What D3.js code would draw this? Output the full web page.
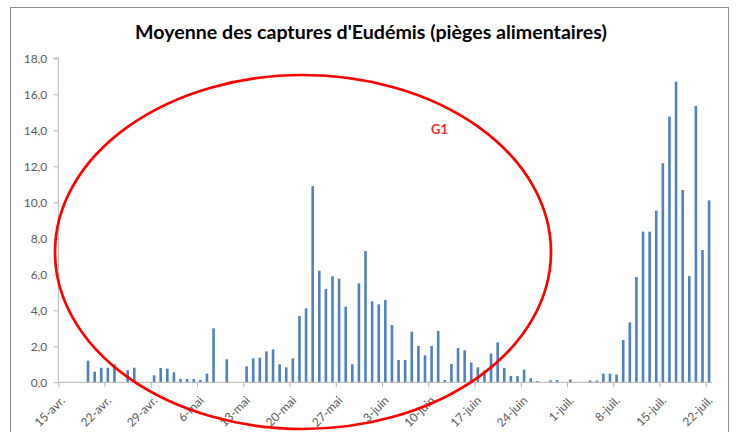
<!DOCTYPE html>
<html>
<head>
<meta charset="utf-8">
<script src="https://cdn.jsdelivr.net/npm/d3@7"></script>
<style>
  body { margin: 0; background: #fff; }
  svg { display: block; font-family: Lato, "Open Sans", sans-serif; }
  .axis path, .axis line { stroke: #b3b3b3; }
  .axis text { fill: #595959; font-size: 12px; font-family: Lato, sans-serif; }
</style>
</head>
<body>
<div id="chart"></div>
<script>
var svgWidth = 737;
var svgHeight = 432;

// first and last day of the series (15 avril -> 22 juillet)
var firstDay = new Date(2013, 3, 15);
var lastDay = new Date(2013, 6, 22);

// daily mean catches, one value per day starting at firstDay
var captures = [
  0, 0, 0, 0, 1.2, 0.59, 0.81, 0.81, 1.0, 0,
  0.67, 0.81, 0, 0, 0.39, 0.8, 0.76, 0.55, 0.18, 0.18,
  0.18, 0.13, 0.48, 3.0, 0, 1.28, 0, 0, 0.89, 1.33,
  1.37, 1.72, 1.83, 1.0, 0.83, 1.33, 3.68, 4.11, 10.9, 6.2,
  5.18, 5.89, 5.76, 4.2, 1.0, 5.5, 7.29, 4.5, 4.33, 4.57,
  3.18, 1.24, 1.24, 2.81, 2.02, 1.5, 2.02, 2.85, 0.13, 1.02,
  1.9, 1.78, 1.1, 0.83, 0.66, 1.59, 2.22, 0.79, 0.35, 0.35,
  0.7, 0.22, 0.06, 0, 0.11, 0.13, 0, 0.15, 0, 0,
  0.1, 0.1, 0.48, 0.48, 0.43, 2.35, 3.33, 5.85, 8.37, 8.37,
  9.54, 12.17, 14.76, 16.7, 10.68, 5.9, 15.35, 7.35, 10.11
];

var xTickLabels = ["15-avr.", "22-avr.", "29-avr.", "6-mai", "13-mai", "20-mai", "27-mai",
  "3-juin", "10-juin", "17-juin", "24-juin", "1-juil.", "8-juil.", "15-juil.", "22-juil."];

var yTicks = [0, 2, 4, 6, 8, 10, 12, 14, 16, 18];

var days = d3.timeDay.range(firstDay, d3.timeDay.offset(lastDay, 1));
var weeks = days.filter(function(d, i) { return i % 7 === 0; });

var plot = { left: 58.3, right: 712.4, top: 58.3, bottom: 382.3 };

var svg = d3.select("#chart").append("svg")
    .attr("width", svgWidth)
    .attr("height", svgHeight);

// chart frame
svg.append("rect")
    .attr("x", 10.5)
    .attr("y", 7.5)
    .attr("width", 718)
    .attr("height", 450)
    .attr("fill", "#fff")
    .attr("stroke", "#8c8c8c")
    .attr("stroke-width", 1);

svg.append("text")
    .attr("x", 371)
    .attr("y", 39)
    .attr("text-anchor", "middle")
    .style("font-family", "Lato, sans-serif")
    .style("font-weight", "bold")
    .style("font-size", "19.6px")
    .style("fill", "#000")
    .text("Moyenne des captures d'Eudémis (pièges alimentaires)");

var xScale = d3.scaleTime()
    .domain([firstDay, d3.timeDay.offset(lastDay, 1)])
    .range([plot.left, plot.right]);

var yScale = d3.scaleLinear()
    .domain([0, 18])
    .range([plot.bottom, plot.top]);

var dayWidth = (plot.right - plot.left) / days.length;
var barWidth = 2.6;

var yAxis = d3.axisLeft(yScale)
    .tickValues(yTicks)
    .tickSize(5)
    .tickPadding(6)
    .tickFormat(function(d) { return d.toFixed(1).replace(".", ","); });

svg.append("g")
    .attr("class", "axis")
    .attr("transform", `translate(${plot.left}, 0)`)
    .call(yAxis)
    .call(function(g) { g.select(".domain").attr("d", `M-5,${plot.top}H0V${plot.bottom}`); });

svg.selectAll(".bar")
    .data(captures)
    .enter()
    .append("rect")
        .attr("class", "bar")
        .attr("x", function(d, i) { return xScale(days[i]) + dayWidth / 2 - barWidth / 2; })
        .attr("y", function(d) { return yScale(d); })
        .attr("width", barWidth)
        .attr("height", function(d) { return plot.bottom - yScale(d); })
        .style("fill", "#4f81bd");

var xAxis = d3.axisBottom(xScale)
    .tickValues(weeks)
    .tickSize(5)
    .tickFormat(function(d, i) { return xTickLabels[i]; });

var gx = svg.append("g")
    .attr("class", "axis")
    .attr("transform", `translate(0, ${plot.bottom})`)
    .call(xAxis);

gx.select(".domain").attr("d", `M${plot.left},0H${plot.right}`);

gx.selectAll(".tick text")
    .attr("text-anchor", "end")
    .attr("dy", null)
    .attr("y", 0)
    .attr("transform", "translate(7, 19) rotate(-45)");

// red circle drawn over the first flight
svg.append("ellipse")
    .attr("cx", 303)
    .attr("cy", 252)
    .attr("rx", 248)
    .attr("ry", 177)
    .attr("fill", "none")
    .attr("stroke", "#ff0000")
    .attr("stroke-width", 2.7);

svg.append("text")
    .attr("x", 431)
    .attr("y", 134)
    .style("font-family", "Lato, sans-serif")
    .style("font-weight", "bold")
    .style("font-size", "13px")
    .style("fill", "#ff2a2a")
    .text("G1");
</script>
</body>
</html>
